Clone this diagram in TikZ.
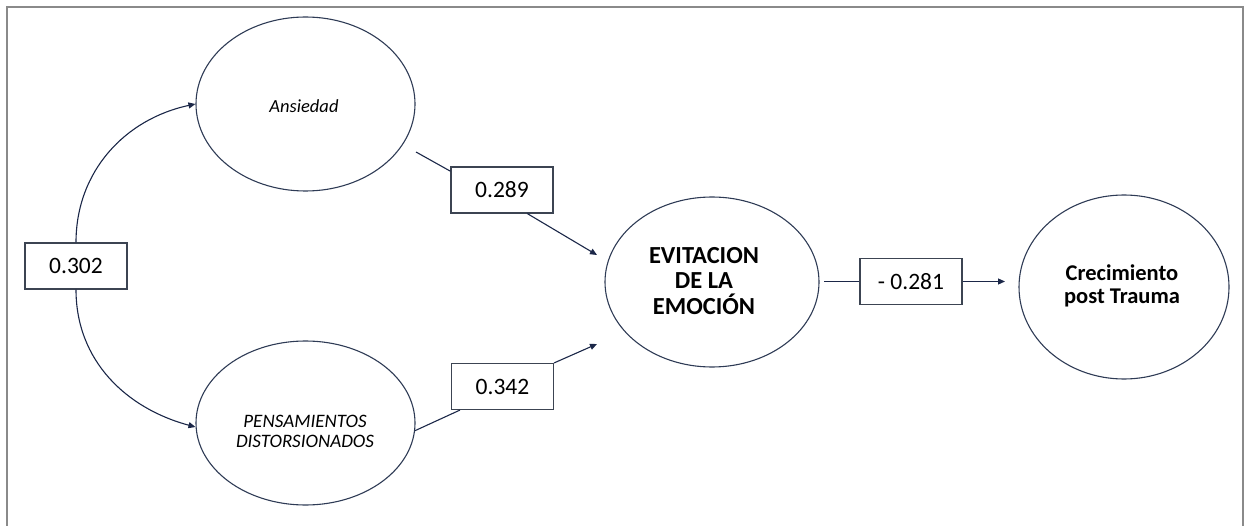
\documentclass[tikz,border=0pt]{standalone}
\usepackage{fontspec}
\setmainfont{Carlito}
\usetikzlibrary{arrows.meta,shapes.geometric,calc}
\definecolor{navy}{HTML}{1B2748}
\definecolor{ellc}{HTML}{2E3B55}
\definecolor{boxc}{HTML}{3C4452}
\definecolor{framec}{HTML}{8A8A8A}
\begin{document}
\begin{tikzpicture}[x=1pt,y=-1pt,
  latent/.style={ellipse,draw=ellc,line width=1.1pt,inner sep=0pt,align=center},
  coef/.style={rectangle,draw=boxc,line width=1.1pt,inner sep=0pt,minimum width=102pt,minimum height=46pt,font=\fontsize{23.5}{26}\selectfont},
  link/.style={draw=navy,line width=1.1pt},
  arr/.style={link,-{Triangle[length=7pt,width=6pt]}}]
\useasboundingbox (0,0) rectangle (1244,526);
\draw[framec,line width=1.2pt] (7,526) -- (7,7) -- (1243,7) -- (1243,526);

\node[latent,minimum width=219pt,minimum height=174pt] (ans) at (305.5,104) {};
\node[font=\fontsize{18.5}{20}\selectfont\itshape] (anst) at (304,106) {Ansiedad};
\node[latent,minimum width=219pt,minimum height=164pt] (pen) at (305.5,423) {};
\node[font=\fontsize{19}{20}\selectfont\itshape,align=center] (pent) at (305,431) {PENSAMIENTOS\\DISTORSIONADOS};
\node[latent,minimum width=214pt,minimum height=170pt] (evi) at (712,282) {};
\node[font=\fontsize{24.5}{25.5}\selectfont\bfseries,align=center] (evit) at (704,281) {EVITACION\\DE LA\\EMOCIÓN};
\node[latent,minimum width=210pt,minimum height=184pt] (cre) at (1124,287) {};
\node[font=\fontsize{22.5}{23.5}\selectfont\bfseries,align=center] (cret) at (1122,286) {Crecimiento\\post Trauma};

\node[coef] (b302) at (76,266) {0.302};
\node[coef] (b289) at (502,190) {0.289};
\node[coef] (b342) at (502.5,386.5) {0.342};
\node[coef] (b281) at (911,281.5) {- 0.281};

\coordinate (s1) at (416,152);
\coordinate (t1) at (597,255);
\coordinate (t2) at (597,344);
\coordinate (t3) at (1005,281.5);
\coordinate (s3) at (824,281.5);

\draw[arr] (b302.north) to[out=90,in=192] (ans.west);
\draw[arr] (b302.south) to[out=-90,in=165] ($(pen.west)+(0,4)$);
\draw[link] (s1) -- (b289.160.6);
\draw[arr] (b289.-43.8) -- (t1);
\draw[link] (pen.-4) -- (b342.209);
\draw[arr] (b342.north east) -- (t2);
\draw[link] (s3) -- (b281.west);
\draw[arr] (b281.east) -- (t3);
\end{tikzpicture}
\end{document}
